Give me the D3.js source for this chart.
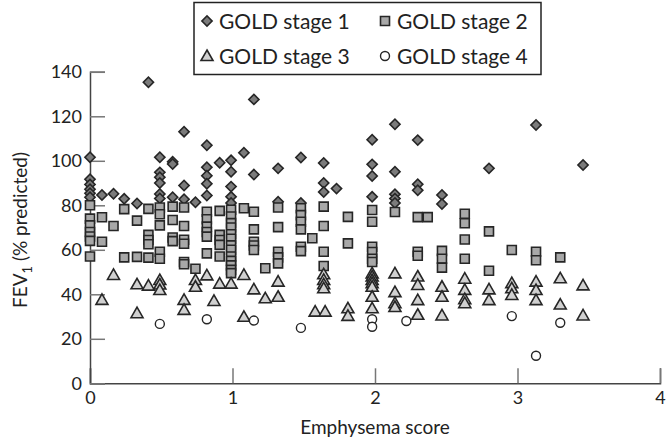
<!DOCTYPE html>
<html><head><meta charset="utf-8">
<script src="https://cdn.jsdelivr.net/npm/d3@7"></script>
<style>body{margin:0;background:#fff}svg{display:block}text{font-family:"Lato","Liberation Sans",sans-serif;fill:#222}</style>
</head><body><svg id="c" width="668" height="439"></svg>
<script>
const xTicks = [0, 1, 2, 3, 4];
const yTicks = [0, 20, 40, 60, 80, 100, 120, 140];
const seriesNames = ["GOLD stage 1", "GOLD stage 2", "GOLD stage 3", "GOLD stage 4"];

const stage1 = [
 [0,101.6],[0,91.7],[0,89.4],[0,87.2],[0,85.4],[0,83.6],
 [0.084,84.6],[0.165,85.2],[0.24,82.9],[0.33,80.8],[0.41,135.3],
 [0.49,101.6],[0.49,94.8],[0.49,92.6],[0.49,90],[0.49,85.1],[0.49,83.1],
 [0.58,99.6],[0.58,98.6],[0.58,83.6],
 [0.66,113.1],[0.66,88.9],[0.66,82.7],[0.74,81.4],
 [0.82,107],[0.82,97.1],[0.82,93.3],[0.82,89.7],[0.82,84.4],
 [0.91,99.1],
 [0.99,100.2],[0.99,95.1],[0.99,88.4],[0.99,83.8],[0.99,81],
 [1.08,103.6],[1.15,127.6],[1.15,93.8],[1.32,96.6],[1.32,81.6],
 [1.48,101.5],[1.48,81],[1.64,99],[1.64,90],[1.64,86],[1.73,87.5],
 [1.98,109.5],[1.98,98.4],[1.98,93.2],[1.98,83.8],
 [2.14,116.4],[2.14,95.1],[2.14,85],[2.14,83],[2.14,81],
 [2.30,109.3],[2.30,89.5],[2.30,86.8],[2.47,84.6],[2.47,80.6],
 [2.80,96.6],[3.13,116.1],[3.46,98.1]
];
const stage2 = [
 [0,80],[0,74],[0,71],[0,68],[0,66],[0,64],[0,57],
 [0.084,74.6],[0.084,63.6],[0.165,70.7],[0.24,78.3],[0.24,56.6],
 [0.33,73.1],[0.33,56.8],
 [0.41,78.4],[0.41,66.7],[0.41,64.4],[0.41,62.5],[0.41,56.5],
 [0.49,79],[0.49,76],[0.49,71],[0.49,59.1],[0.49,56],
 [0.58,79.4],[0.58,73.4],[0.58,65.5],[0.58,63.9],
 [0.66,79],[0.66,70.7],[0.66,64.5],[0.66,62.7],[0.66,54.5],[0.66,53.5],
 [0.74,51.5],
 [0.82,77.1],[0.82,73.7],[0.82,70.4],[0.82,68],[0.82,65.9],[0.82,58.4],
 [0.91,77.5],[0.91,66.7],[0.91,64.4],[0.91,62.2],[0.91,57],
 [0.99,78],[0.99,75],[0.99,72],[0.99,70],[0.99,67],[0.99,65],[0.99,62],[0.99,60],[0.99,57],[0.99,55],[0.99,53],[0.99,51],[0.99,49.5],
 [1.08,78.7],
 [1.15,77.1],[1.15,69.2],[1.15,63.6],[1.15,61.9],[1.15,59.9],
 [1.23,51.7],
 [1.32,79],[1.32,70.2],[1.32,59.1],[1.32,56.6],[1.32,53.9],
 [1.48,78.7],[1.48,75.6],[1.48,72.6],[1.48,69.2],[1.48,61.4],[1.48,59.4],
 [1.56,65.2],
 [1.64,79.4],[1.64,70.7],[1.64,59.1],[1.64,52.7],
 [1.81,74.8],[1.81,62.9],
 [1.98,77.9],[1.98,72.6],[1.98,61.4],[1.98,59],[1.98,56],[1.98,54.5],
 [2.14,77],[2.30,74.7],[2.30,59.1],[2.30,57.3],[2.37,74.7],
 [2.47,59.5],[2.47,56],[2.47,52],
 [2.63,76.2],[2.63,71.9],[2.63,64.6],[2.63,56],
 [2.80,68.3],[2.80,50.6],[2.96,59.9],[3.13,59.1],[3.13,55.3],[3.30,56.6]
];
const stage3 = [
 [0.084,37.5],[0.165,48.7],[0.33,44.5],[0.33,31.5],[0.41,43.9],
 [0.49,46.4],[0.49,44.4],[0.49,41.9],[0.66,37.5],[0.66,33],
 [0.74,46.4],[0.74,43.4],[0.82,48.5],[0.87,37],[0.91,44.8],[0.99,44.8],
 [1.08,48.7],[1.08,29.9],[1.15,42.2],[1.23,38.2],[1.32,45.7],[1.32,38.9],
 [1.58,32.2],[1.65,32.2],[1.64,49],[1.64,46.5],[1.64,44.5],[1.64,42.7],
 [1.81,33.7],[1.81,30.3],
 [1.98,49.4],[1.98,48],[1.98,46.4],[1.98,45],[1.98,43.4],[1.98,38.9],[1.98,33.7],
 [2.14,49.4],[2.14,41],[2.14,36],[2.14,34.3],
 [2.30,48],[2.30,44.2],[2.30,37.4],[2.30,30.8],
 [2.47,43.4],[2.47,38.9],[2.47,30.5],
 [2.63,47],[2.63,42],[2.63,37.8],[2.63,36],
 [2.80,42.2],[2.80,37.4],[2.96,45],[2.96,42.7],[2.96,39.7],
 [3.13,45.7],[3.13,41.9],[3.13,37.4],[3.30,47.2],[3.30,35.4],
 [3.46,44],[3.46,30.5]
];
const stage4 = [
 [0.49,26.7],[0.82,28.8],[1.15,28.2],[1.48,24.9],[1.98,28.8],[1.98,25.4],
 [2.22,28],[2.96,30.2],[3.13,12.4],[3.30,27.2]
];

const svg = d3.select("#c");
const x = d3.scaleLinear().domain([0, 4]).range([90, 660]);
const y = d3.scaleLinear().domain([0, 140]).range([383.3, 71.8]);

// axes
const xAxis = svg.append("g").attr("transform", `translate(0,${y(0)})`)
  .call(d3.axisBottom(x).tickValues(xTicks).tickSize(-15).tickPadding(14).tickFormat(d3.format("d")));
const yAxis = svg.append("g").attr("transform", `translate(${x(0)},0)`)
  .call(d3.axisLeft(y).tickValues(yTicks).tickSize(-15).tickPadding(8).tickFormat(d3.format("d")));
[xAxis, yAxis].forEach(g => {
  g.select(".domain").attr("stroke", "#444").attr("stroke-width", 1.5);
  g.selectAll(".tick line").attr("stroke", "#777").attr("stroke-width", 1.5);
  g.selectAll(".tick text").style("font-size", "18px").attr("fill", "#222");
});
xAxis.selectAll(".tick text").attr("dy", "0.35em");

// axis titles
svg.append("text").attr("x", 375).attr("y", 434).attr("text-anchor", "middle")
  .style("font-size", "19px").text("Emphysema score");
const yl = svg.append("text").attr("transform", "translate(27,230) rotate(-90)")
  .attr("text-anchor", "middle").style("font-size", "19px");
yl.append("tspan").text("FEV");
yl.append("tspan").attr("dy", 5).style("font-size", "13px").text("1");
yl.append("tspan").attr("dy", -5).text(" (% predicted)");

// markers
const stroke = "#262626";
const diamondPath = d3.symbol(d3.symbolSquare, 52)();
const squarePath = d3.symbol(d3.symbolSquare, 81)();
const trianglePath = "M0,-6L6,4.5L-6,4.5Z";
function drawDiamond(g, cx, cy) {
  g.append("path").attr("d", diamondPath).attr("transform", `translate(${cx},${cy}) rotate(45)`)
    .attr("fill", "#7b7b7b").attr("stroke", stroke).attr("stroke-width", 1.6);
}
function drawSquare(g, cx, cy) {
  g.append("path").attr("d", squarePath).attr("transform", `translate(${cx},${cy})`)
    .attr("fill", "#a8a8a8").attr("stroke", stroke).attr("stroke-width", 1.6);
}
function drawTriangle(g, cx, cy) {
  g.append("path").attr("d", trianglePath).attr("transform", `translate(${cx},${cy})`)
    .attr("fill", "#d0d0d0").attr("stroke", stroke).attr("stroke-width", 1.6).attr("stroke-linejoin", "miter");
}
function drawCircle(g, cx, cy) {
  g.append("circle").attr("cx", cx).attr("cy", cy).attr("r", 4.5)
    .attr("fill", "#fff").attr("stroke", stroke).attr("stroke-width", 1.4);
}
const plot = svg.append("g");
stage1.forEach(d => drawDiamond(plot, x(d[0]), y(d[1])));
stage2.forEach(d => drawSquare(plot, x(d[0]), y(d[1])));
stage3.forEach(d => drawTriangle(plot, x(d[0]), y(d[1])));
stage4.forEach(d => drawCircle(plot, x(d[0]), y(d[1])));

// legend
const lg = svg.append("g");
lg.append("rect").attr("x", 194).attr("y", 2.5).attr("width", 347).attr("height", 72)
  .attr("fill", "#fff").attr("stroke", "#222").attr("stroke-width", 1.5);
const legendItems = [
  {name: seriesNames[0], draw: drawDiamond, mx: 207, my: 21},
  {name: seriesNames[1], draw: drawSquare, mx: 385, my: 21},
  {name: seriesNames[2], draw: drawTriangle, mx: 207, my: 56},
  {name: seriesNames[3], draw: drawCircle, mx: 385, my: 56}
];
legendItems.forEach(it => {
  it.draw(lg, it.mx, it.my);
  lg.append("text").attr("x", it.mx + 12).attr("y", it.my).attr("dy", "0.36em")
    .style("font-size", "21px").text(it.name);
});
</script></body></html>
